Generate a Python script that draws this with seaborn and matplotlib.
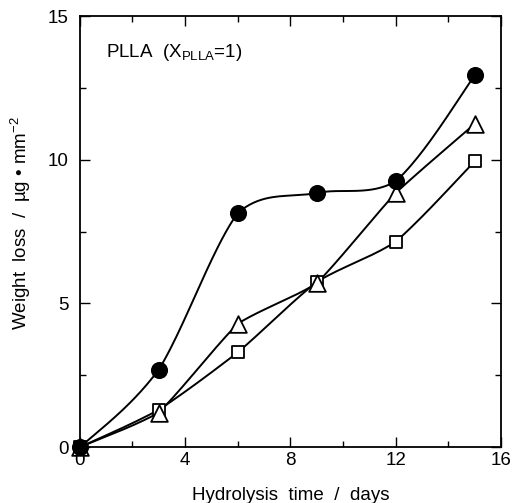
import numpy as np
import pandas as pd
import matplotlib
matplotlib.use('Agg')
import matplotlib.pyplot as plt
import seaborn as sns

### donnees
jours = [0, 3, 6, 9, 12, 15]
perte_cercle = [0.0, 2.7, 8.15, 8.85, 9.25, 12.95]
perte_triangle = [0.0, 1.2, 4.3, 5.7, 8.85, 11.25]
perte_carre = [0.0, 1.3, 3.3, 5.75, 7.15, 9.95]


def courbe_lisse(x, y, tension=1.0, n=40):
    """Spline de Hermite (tangentes centrees, ponderees) pour la courbe lisse."""
    x = np.asarray(x, float)
    y = np.asarray(y, float)
    d = np.diff(y) / np.diff(x)
    m = np.empty_like(y)
    m[1:-1] = (y[2:] - y[:-2]) / (x[2:] - x[:-2])
    m[0] = (3 * d[0] - m[1]) / 2
    m[-1] = (3 * d[-1] - m[-2]) / 2
    # melange entre tangente spline et pente des segments
    seg = np.empty_like(y)
    seg[1:-1] = (d[:-1] + d[1:]) / 2
    seg[0], seg[-1] = d[0], d[-1]
    m = tension * m + (1 - tension) * seg
    xs, ys = [], []
    for i in range(len(x) - 1):
        h = x[i + 1] - x[i]
        t = np.linspace(0, 1, n, endpoint=(i == len(x) - 2))
        h00 = 2 * t**3 - 3 * t**2 + 1
        h10 = t**3 - 2 * t**2 + t
        h01 = -2 * t**3 + 3 * t**2
        h11 = t**3 - t**2
        # tangentes locales pour chaque segment (plus raide si tension faible)
        mi = m[i] if tension >= 1 else tension * m[i] + (1 - tension) * d[i]
        mj = m[i + 1] if tension >= 1 else tension * m[i + 1] + (1 - tension) * d[i]
        xs.append(x[i] + t * h)
        ys.append(h00 * y[i] + h10 * h * mi + h01 * y[i + 1] + h11 * h * mj)
    return np.concatenate(xs), np.concatenate(ys)


sns.set_style('ticks')
plt.rcParams['font.family'] = ['Liberation Sans', 'DejaVu Sans']
plt.rcParams['mathtext.fontset'] = 'custom'
plt.rcParams['mathtext.rm'] = 'Liberation Sans'
plt.rcParams['mathtext.it'] = 'Liberation Sans'
plt.rcParams['text.color'] = 'black'
plt.rcParams['axes.labelcolor'] = 'black'

fig = plt.figure(figsize=(5.15, 5.03), dpi=100)
ax = fig.add_axes([0.155, 0.111, 0.818, 0.857])

series = [
    (perte_carre, 's', 'white', 9, 0.5),
    (perte_triangle, '^', 'white', 12, 0.3),
    (perte_cercle, 'o', 'black', 11, 0.7),
]
for valeurs, marqueur, remplissage, taille, tension in series:
    xs, ys = courbe_lisse(jours, valeurs, tension)
    sns.lineplot(x=xs, y=ys, ax=ax, color='black', lw=1.4, sort=False,
                 estimator=None, zorder=2)
    sns.scatterplot(x=jours, y=valeurs, ax=ax, marker=marqueur,
                    s=taille**2, facecolor=remplissage, edgecolor='black',
                    linewidth=1.3, zorder=3, clip_on=False)

ax.set_xlim(0, 16)
ax.set_ylim(0, 15)
ax.set_xticks([0, 4, 8, 12, 16])
ax.set_xticks([2, 6, 10, 14], minor=True)
ax.set_yticks([0, 5, 10, 15])
ax.set_yticks([2.5, 7.5, 12.5], minor=True)
ax.tick_params(which='both', direction='in', top=True, right=True,
               labelsize=13.5, width=1, color='black', labelcolor='black')
ax.tick_params(which='major', length=7)
ax.tick_params(which='minor', length=4.5)
ax.tick_params(axis='y', pad=8)
for s in ax.spines.values():
    s.set_linewidth(1.3)
    s.set_color('black')

ax.set_xlabel('Hydrolysis  time  /  days', fontsize=13.5)
ax.set_ylabel('Weight  loss  /  µg • mm$^{-2}$', fontsize=13.5)
ax.xaxis.set_label_coords(0.5, -0.092)
ax.yaxis.set_label_coords(-0.112, 0.52)
ax.text(1.0, 13.75, 'PLLA  (X$_{\\rm PLLA}$=1)', fontsize=13.5, va='center')

plt.savefig('out.png', dpi=100)
plt.close()
